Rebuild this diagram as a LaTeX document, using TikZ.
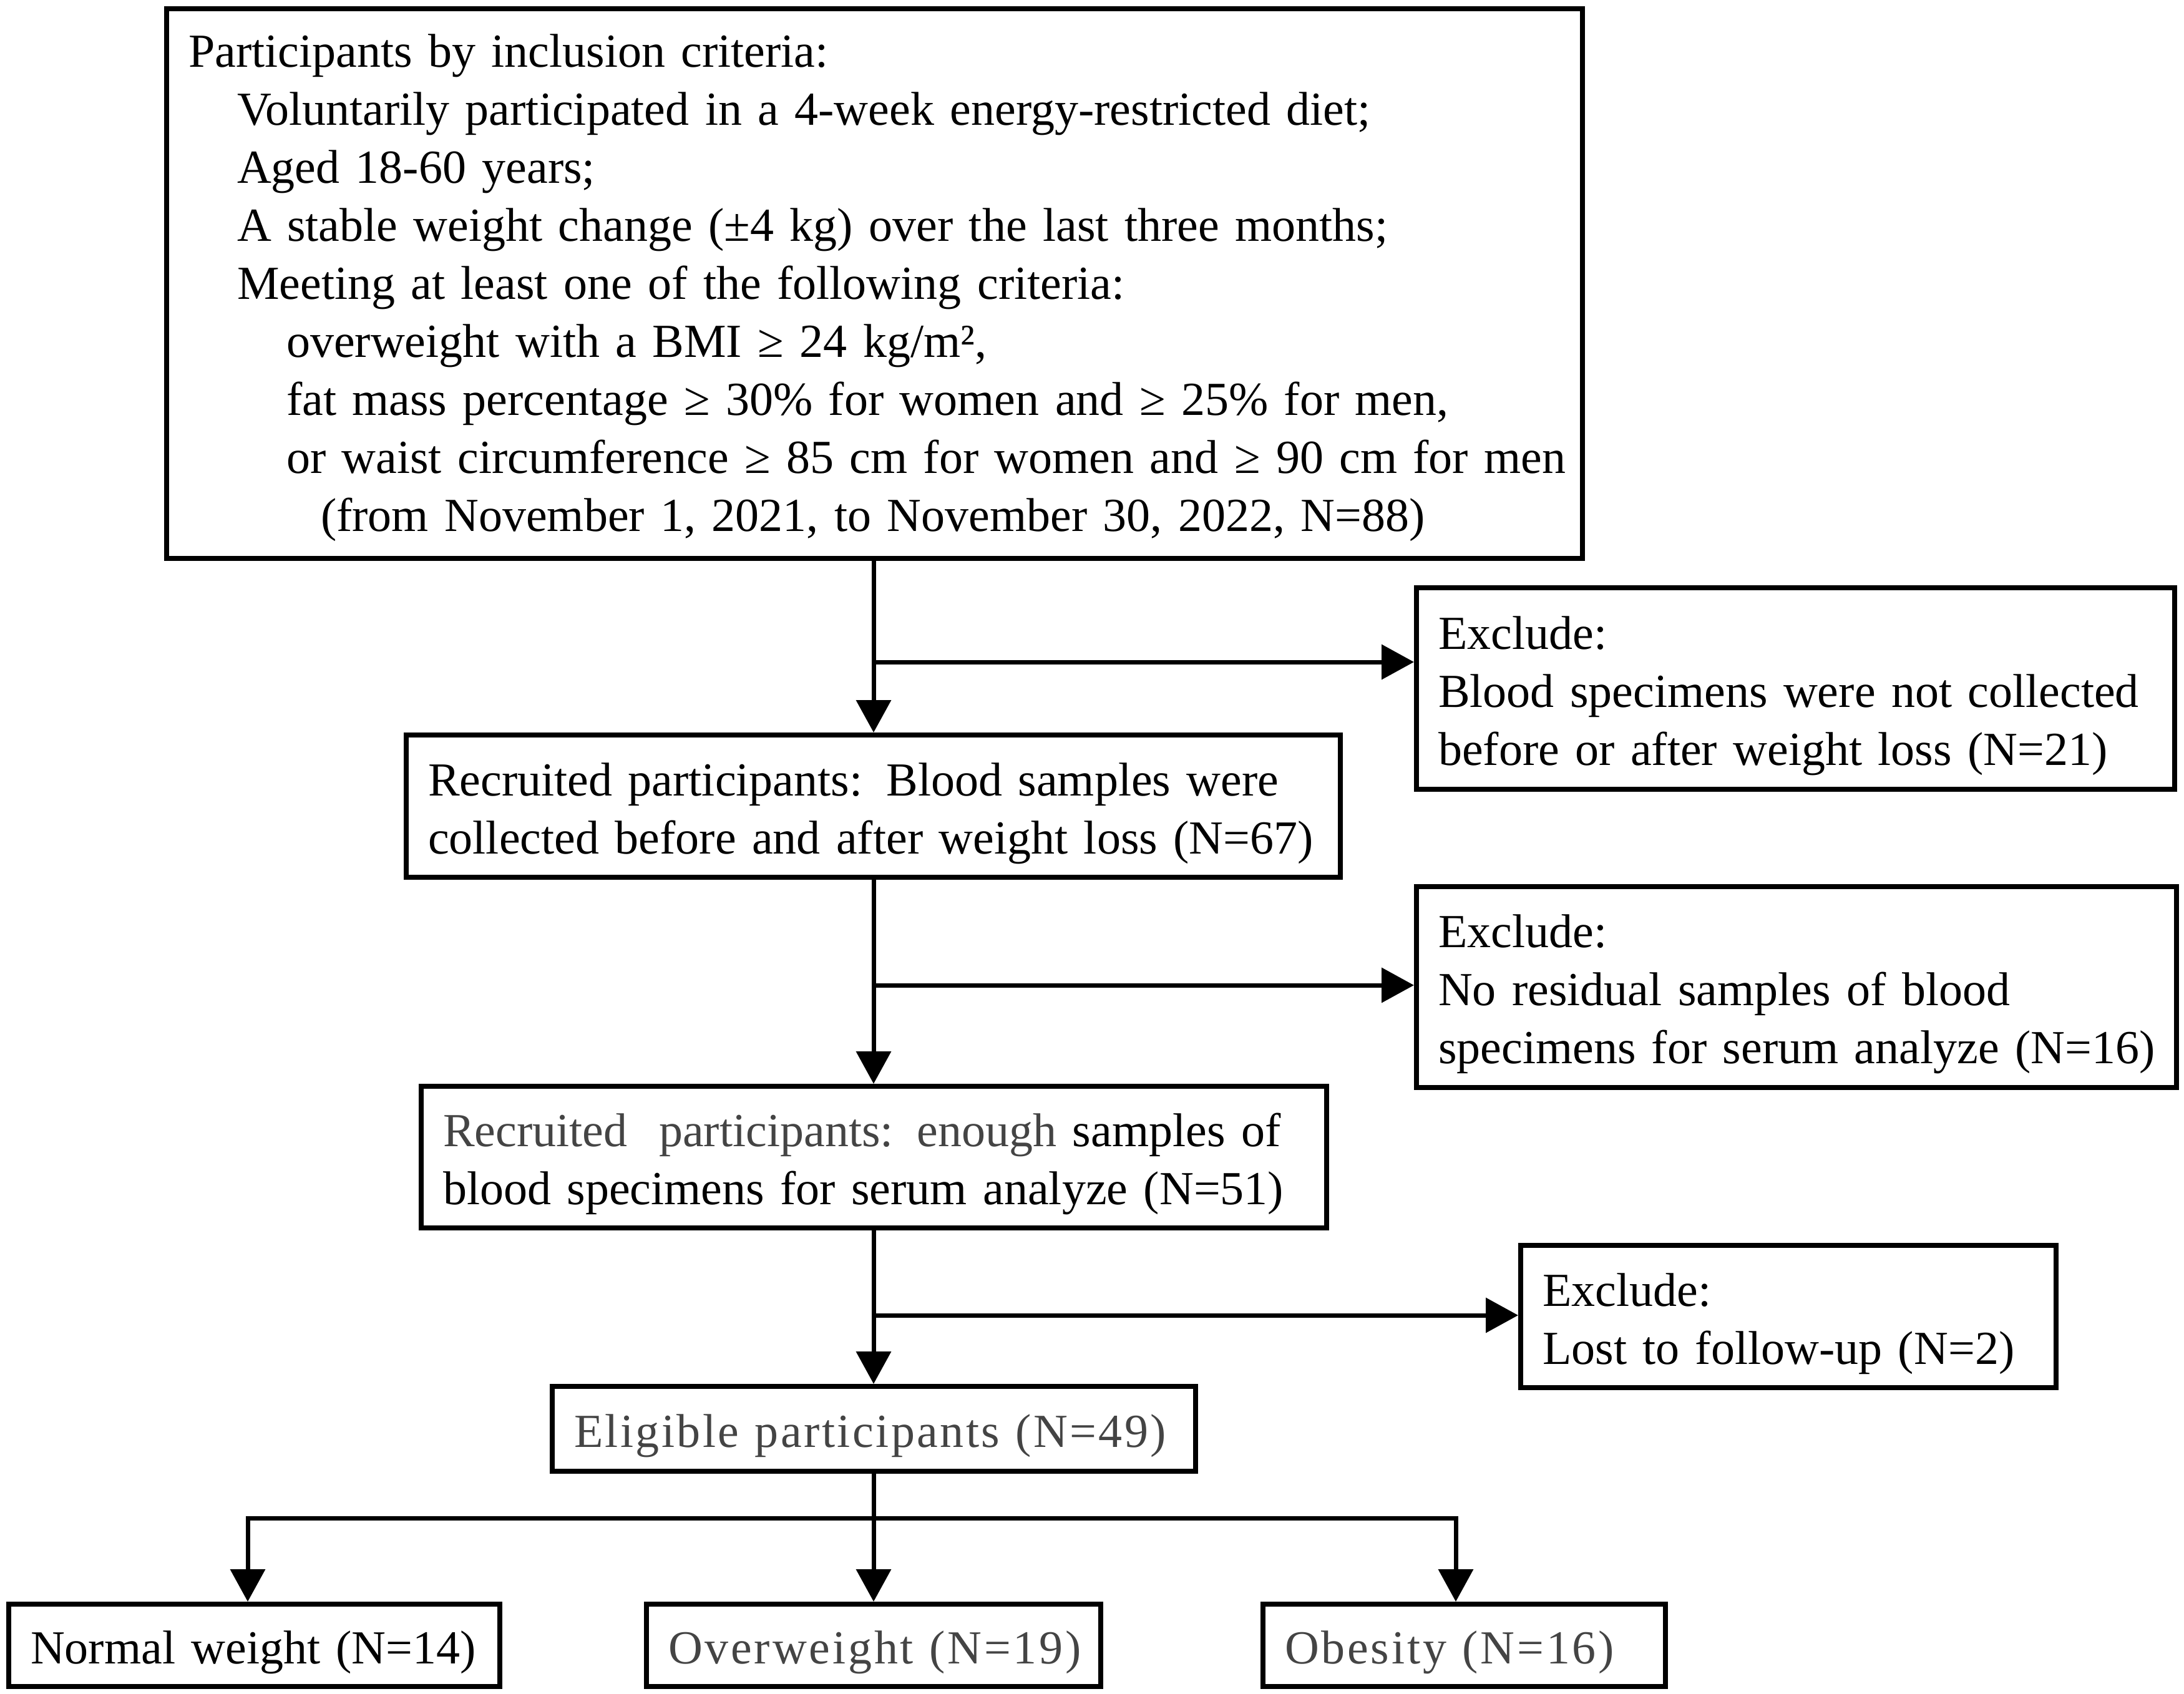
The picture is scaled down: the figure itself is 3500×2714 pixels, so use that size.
\documentclass[tikz,border=0pt]{standalone}
\usepackage{fontspec}
\setmainfont{Liberation Serif}
\usetikzlibrary{arrows.meta}
\definecolor{txtgray}{RGB}{68,68,68}
\newcommand{\gtxt}[2][0]{{\color{txtgray}\addfontfeature{LetterSpace=#1}#2}}
\newcommand{\boxline}[2][0pt]{\mbox{\hspace*{#1}#2}}
\newcommand{\fstrut}[1][76pt]{\rule{0pt}{#1}}
\begin{document}
\begin{tikzpicture}[x=1pt,y=-1pt,
  box/.style={draw, line width=8pt, rectangle, inner xsep=35pt, inner ysep=0pt,
    align=left, font=\fontsize{76}{93}\selectfont},
  link/.style={line width=7pt},
  arr/.style={line width=7pt, -{Triangle[length=52pt,width=55pt]}},
  tip/.style={line width=7pt, {Triangle[length=52pt,width=55pt]}-{Triangle[length=52pt,width=55pt]}}]
\useasboundingbox (0,0) rectangle (3500,2714);

\node[box, minimum width=2269pt, minimum height=881pt, text width=2199pt] (top) at (1401.5,454.5)
{\boxline{\fstrut[67pt]Participants by inclusion criteria:}\\
\boxline[78pt]{Voluntarily participated in a 4-week energy-restricted diet;}\\
\boxline[78pt]{Aged 18-60 years;}\\
\boxline[78pt]{A stable weight change (±4 kg) over the last three months;}\\
\boxline[78pt]{Meeting at least one of the following criteria:}\\
\boxline[157pt]{overweight with a BMI ≥ 24 kg/m²,}\\
\boxline[157pt]{fat mass percentage ≥ 30\% for women and ≥ 25\% for men,}\\
\boxline[157pt]{or waist circumference ≥ 85 cm for women and ≥ 90 cm for men}\\
\boxline[212pt]{(from November 1, 2021, to November 30, 2022, N=88)}};

\node[box, minimum width=1215pt, minimum height=323pt, text width=1145pt] (ex1) at (2877.5,1103.5)
{\boxline{\fstrut Exclude:}\\\boxline{Blood specimens were not collected}\\\boxline{before or after weight loss (N=21)}};

\node[box, minimum width=1497pt, minimum height=228pt, text width=1427pt] (b2) at (1399.5,1292)
{\boxline{\fstrut Recruited participants: Blood samples were}\\\boxline{collected before and after weight loss (N=67)}};

\node[box, minimum width=1218pt, minimum height=322pt, text width=1148pt] (ex2) at (2879,1582)
{\boxline{\fstrut Exclude:}\\\boxline{No residual samples of blood}\\\boxline{specimens for serum analyze (N=16)}};

\node[box, minimum width=1451pt, minimum height=227pt, text width=1381pt] (b3) at (1400.5,1854.5)
{\boxline{\fstrut\gtxt{Recruited\ \ participants: enough} samples of}\\\boxline{blood specimens for serum analyze (N=51)}};

\node[box, minimum width=858pt, minimum height=228pt, text width=788pt] (ex3) at (2866,2110)
{\boxline{\fstrut Exclude:}\\\boxline{Lost to follow-up (N=2)}};

\node[box, minimum width=1031pt, minimum height=136pt, text width=961pt] (b4) at (1400.5,2290)
{\boxline{\fstrut\gtxt[4.5]{Eligible participants (N=49)}}};

\node[box, minimum width=787pt, minimum height=132pt, text width=717pt] (nw) at (407.5,2637)
{\boxline{\fstrut Normal weight (N=14)}};
\node[box, minimum width=728pt, minimum height=132pt, text width=658pt] (ow) at (1400,2637)
{\boxline{\fstrut\gtxt[5]{Overweight (N=19)}}};
\node[box, minimum width=645pt, minimum height=132pt, text width=575pt] (ob) at (2346.5,2637)
{\boxline{\fstrut\gtxt[5]{Obesity (N=16)}}};

\coordinate (j1) at (1400,1061);
\coordinate (j2) at (1400,1579);
\coordinate (j3) at (1400,2108);
\coordinate (bl) at (397,2433);
\coordinate (br) at (2333,2433);

\draw[arr] (j1 |- top.south) -- (j1 |- b2.north);
\draw[arr] (j1) -- (j1 -| ex1.west);
\draw[arr] (j2 |- b2.south) -- (j2 |- b3.north);
\draw[arr] (j2) -- (j2 -| ex2.west);
\draw[arr] (j3 |- b3.south) -- (j3 |- b4.north);
\draw[arr] (j3) -- (j3 -| ex3.west);
\draw[arr] (j3 |- b4.south) -- (j3 |- ow.north);
\draw[tip, miter limit=10] (bl |- nw.north) -- (bl) -- (br) -- (br |- ob.north);
\end{tikzpicture}
\end{document}
